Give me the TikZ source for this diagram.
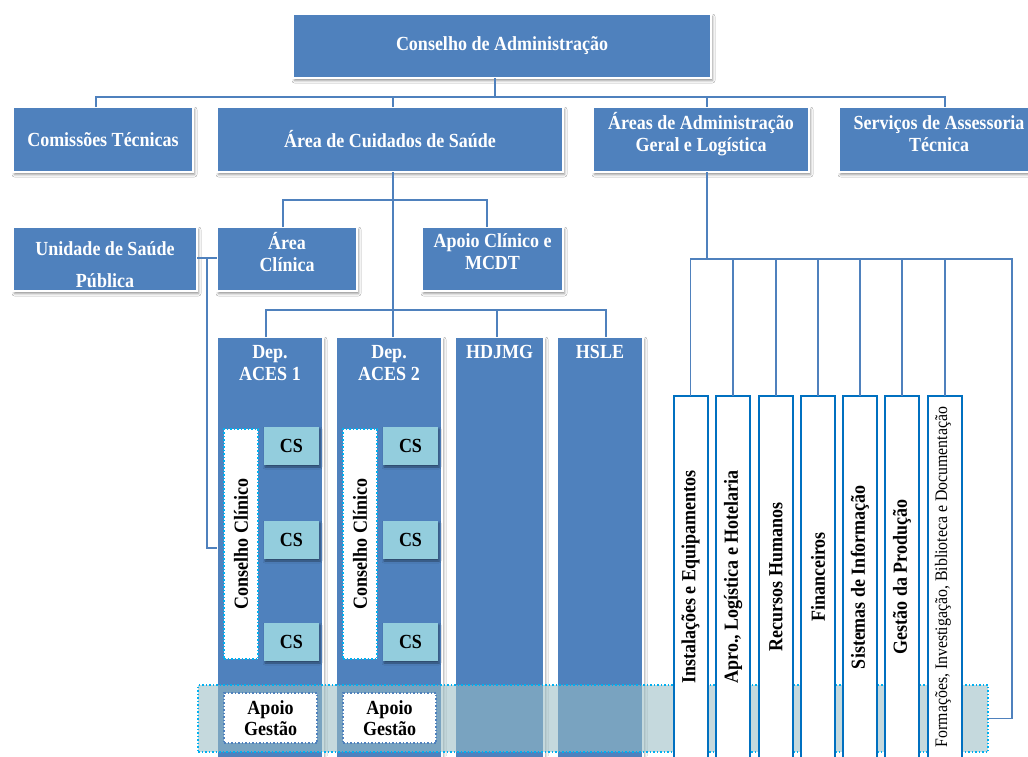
\documentclass[tikz,border=0pt]{standalone}
\usepackage{fontspec}
\setmainfont{Liberation Serif}[FakeStretch=0.9]
\usetikzlibrary{shadows.blur}
\definecolor{boxblue}{HTML}{4F81BD}
\definecolor{lineblue}{HTML}{4F81BD}
\definecolor{csblue}{HTML}{93CDDD}
\definecolor{dotcyan}{HTML}{00B0F0}
\definecolor{frameblue}{HTML}{0070C0}
\definecolor{bandfill}{RGB}{154,189,196}
\newcommand\mybox[7]{\node[#2, minimum width={(#5-#3)*1pt}, minimum height={(#6-#4)*1pt}] (#1) at ({(#3+#5)/2},{(#4+#6)/2}) {#7};}
\tikzset{
  boxbase/.style={rectangle, inner sep=0pt, outer sep=0pt, align=center},
  bluebox/.style={boxbase, fill=boxblue, draw=white, line width=2.5pt, text=white,
    font=\fontsize{20}{22}\selectfont\bfseries,
    blur shadow={shadow xshift=1.5pt, shadow yshift=-2.5pt, shadow blur radius=2.5pt, shadow opacity=45}},
  csbox/.style={boxbase, fill=csblue, draw=none, text=black,
    font=\fontsize{20}{22}\selectfont\bfseries,
    blur shadow={shadow xshift=1pt, shadow yshift=-2pt, shadow blur radius=2pt, shadow opacity=45}},
  ccbox/.style={boxbase, fill=white, draw=dotcyan, dotted, line width=1.5pt},
  agbox/.style={boxbase, fill=white, draw=boxblue, dotted, line width=1.5pt, text=black,
    font=\fontsize{20}{21}\selectfont\bfseries},
  bandbox/.style={boxbase, fill=bandfill, fill opacity=0.57, draw=dotcyan, dotted, line width=1.5pt},
  rbox/.style={boxbase, fill=white, draw=frameblue, line width=2pt},
  wtxt/.style={inner sep=0pt, align=center, text=white, font=\fontsize{20}{22}\selectfont\bfseries},
  vtxt/.style={inner sep=0pt, rotate=90, text=black, font=\fontsize{20}{22}\selectfont\bfseries},
  vtxtsmall/.style={inner sep=0pt, rotate=90, text=black, font=\fontsize{17.6}{18}\selectfont},
  conn/.style={draw=lineblue, line width=1.2pt},
}
\begin{document}
\begin{tikzpicture}[x=1pt,y=-1pt]
\useasboundingbox (0,0) rectangle (1028,756);
\fill[white] (0,0) rectangle (1028,756);
\clip (0,0) rectangle (1028,756);

% junction coordinates
\coordinate (j0) at (495,97);
\coordinate (j1) at (96,97);
\coordinate (j2) at (393,97);
\coordinate (j3) at (707,97);
\coordinate (j4) at (945,97);
\coordinate (k0) at (393,200);
\coordinate (k1) at (283,200);
\coordinate (k2) at (487,200);
\coordinate (m1) at (266,310);
\coordinate (m3) at (497,310);
\coordinate (m4) at (606,310);
\coordinate (p1) at (207,258);
\coordinate (p2) at (207,548);
\coordinate (q0) at (707,259);
\coordinate (q8) at (1012,259);
\coordinate (vt) at (0,577);

% top level
\mybox{cons}{bluebox}{293}{14}{711}{78}{Conselho de Administração}
\mybox{comi}{bluebox}{13}{107}{193}{172}{Comissões Técnicas}
\mybox{acs}{bluebox}{217}{107}{563}{172}{Área de Cuidados de Saúde}
\mybox{aag}{bluebox}{593}{107}{809}{172}{}
\node[wtxt] (aagt) at (701,134) {Áreas de Administração\\Geral e Logística};
\mybox{sat}{bluebox}{839}{107}{1040}{172}{}
\node[wtxt] (satt) at (939,134) {Serviços de Assessoria\\Técnica};

% second level
\mybox{usp}{bluebox}{13}{227}{197}{291}{}
\node[wtxt] (uspt) at (105,265) {Unidade de Saúde\\[10pt]Pública};
\mybox{acl}{bluebox}{217}{227}{357}{291}{}
\node[wtxt] (aclt) at (287,252) {Área\\Clínica};
\mybox{acm}{bluebox}{422}{227}{563}{291}{}
\node[wtxt] (acmt) at (492.5,252) {Apoio Clínico e\\MCDT};

% columns
\mybox{d1}{bluebox}{217}{337}{323}{790}{}
\node[wtxt] (d1t) at (270,363.5) {Dep.\\ACES 1};
\mybox{d2}{bluebox}{336}{337}{442}{790}{}
\node[wtxt] (d2t) at (389,363.5) {Dep.\\ACES 2};
\mybox{hd}{bluebox}{455}{337}{544}{790}{}
\node[wtxt] (hdt) at (499.5,352) {HDJMG};
\mybox{hs}{bluebox}{557}{337}{643}{790}{}
\node[wtxt] (hst) at (600,352) {HSLE};

% inside ACES 1
\mybox{cc1}{ccbox}{224}{429}{258}{659}{}
\node[vtxt] (cc1t) at (cc1.center) {Conselho Clínico};
\mybox{cs1a}{csbox}{264}{427}{319}{465}{CS}
\mybox{cs1b}{csbox}{264}{521}{319}{559}{CS}
\mybox{cs1c}{csbox}{264}{623}{319}{661}{CS}
% inside ACES 2
\mybox{cc2}{ccbox}{343}{429}{377}{659}{}
\node[vtxt] (cc2t) at (cc2.center) {Conselho Clínico};
\mybox{cs2a}{csbox}{383}{427}{438}{465}{CS}
\mybox{cs2b}{csbox}{383}{521}{438}{559}{CS}
\mybox{cs2c}{csbox}{383}{623}{438}{661}{CS}

% band
\mybox{band}{bandbox}{198}{685}{988}{752}{}
\mybox{ag1}{agbox}{224}{693}{317}{743}{Apoio\\Gestão}
\mybox{ag2}{agbox}{343}{693}{436}{743}{Apoio\\Gestão}

% right boxes
\mybox{r1}{rbox}{673.5}{396}{707.5}{790}{}
\mybox{r2}{rbox}{716}{396}{750}{790}{}
\mybox{r3}{rbox}{759}{396}{793}{790}{}
\mybox{r4}{rbox}{801}{396}{835}{790}{}
\mybox{r5}{rbox}{843}{396}{877}{790}{}
\mybox{r6}{rbox}{885}{396}{919}{790}{}
\mybox{r7}{rbox}{928}{396}{962}{790}{}
\node[vtxt] (r1t) at (r1.center |- vt) {Instalações e Equipamentos};
\node[vtxt] (r2t) at (r2.center |- vt) {Apro., Logística e Hotelaria};
\node[vtxt] (r3t) at (r3.center |- vt) {Recursos Humanos};
\node[vtxt] (r4t) at (r4.center |- vt) {Financeiros};
\node[vtxt] (r5t) at (r5.center |- vt) {Sistemas de Informação};
\node[vtxt] (r6t) at (r6.center |- vt) {Gestão da Produção};
\node[vtxtsmall] (r7t) at ([xshift=-2pt]r7.center |- vt) {Formações, Investigação, Biblioteca e Documentação};

% connectors
\draw[conn] (j0 |- cons.south) -- (j0);
\draw[conn] (j1 |- comi.north) -- (j1) -- (j4) -- (j4 |- sat.north);
\draw[conn] (j2) -- (j2 |- acs.north);
\draw[conn] (j3) -- (j3 |- aag.north);
\draw[conn] (k0 |- acs.south) -- (k0 |- d2.north);
\draw[conn] (k1 |- acl.north) -- (k1) -- (k2) -- (k2 |- acm.north);
\draw[conn] (m1 |- d1.north) -- (m1) -- (m4) -- (m4 |- hs.north);
\draw[conn] (m3) -- (m3 |- hd.north);
\draw[conn] (usp.east |- p1) -- (acl.west |- p1);
\draw[conn] (p1) -- (p2) -- (d1.west |- p2);
\draw[conn] (q0 |- aag.south) -- (q0);
\draw[conn] (r1.north) -- (r1.north |- q0) -- (q8) -- (q8 |- band.east) -- (band.east);
\draw[conn] (r2.north) -- (r2.north |- q0);
\draw[conn] (r3.north) -- (r3.north |- q0);
\draw[conn] (r4.north) -- (r4.north |- q0);
\draw[conn] (r5.north) -- (r5.north |- q0);
\draw[conn] (r6.north) -- (r6.north |- q0);
\draw[conn] (r7.north) -- (r7.north |- q0);
\end{tikzpicture}
\end{document}
